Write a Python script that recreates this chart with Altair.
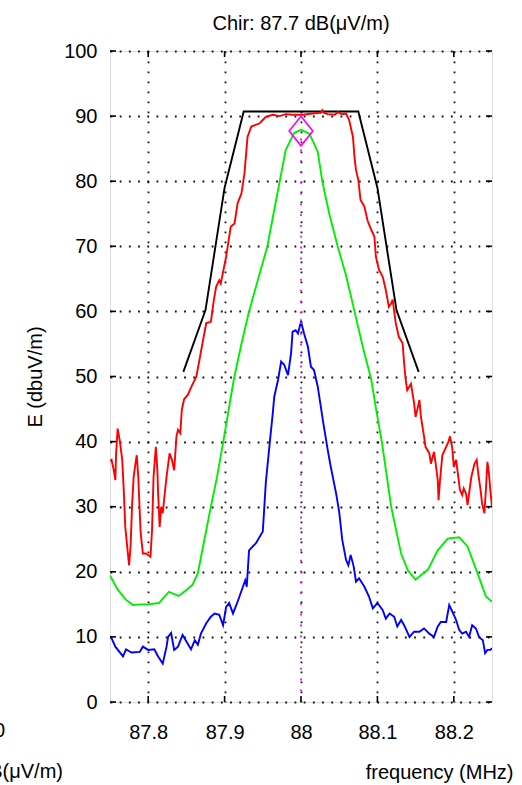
import altair as alt
import pandas as pd

# ---------------- data ----------------
x_ticks = [87.8, 87.9, 88.0, 88.1, 88.2]
y_ticks = [0, 10, 20, 30, 40, 50, 60, 70, 80, 90, 100]

black_f = [87.846, 87.875, 87.9, 87.925, 88.075, 88.1, 88.125, 88.154]
black_v = [50.7, 60.2, 79.0, 90.7, 90.7, 79.0, 60.2, 50.7]

red_f = [87.75, 87.752, 87.755, 87.757, 87.758, 87.760, 87.763, 87.766, 87.768, 87.770,
         87.773, 87.775, 87.777, 87.779, 87.781, 87.783, 87.785, 87.787, 87.790, 87.793,
         87.797, 87.803, 87.805, 87.807, 87.810, 87.812, 87.813, 87.815, 87.817, 87.819,
         87.821, 87.824, 87.828, 87.831, 87.834, 87.837, 87.839, 87.842, 87.844, 87.847,
         87.852, 87.856, 87.863, 87.867, 87.871, 87.876, 87.882, 87.886, 87.889, 87.893,
         87.895, 87.902, 87.908, 87.913, 87.917, 87.922, 87.926, 87.930, 87.935, 87.946,
         87.950, 87.954, 87.963, 87.972, 87.980, 87.989, 88.002, 88.015, 88.026, 88.028,
         88.030, 88.035, 88.044, 88.048, 88.054, 88.059, 88.063, 88.068, 88.070, 88.072,
         88.075, 88.078, 88.083, 88.087, 88.092, 88.096, 88.098, 88.102, 88.107, 88.111,
         88.115, 88.118, 88.120, 88.124, 88.128, 88.133, 88.135, 88.137, 88.139, 88.144,
         88.148, 88.150, 88.153, 88.155, 88.157, 88.161, 88.163, 88.168, 88.170, 88.174,
         88.176, 88.179, 88.180, 88.182, 88.185, 88.190, 88.193, 88.195, 88.198, 88.200,
         88.203, 88.205, 88.208, 88.211, 88.213, 88.216, 88.218, 88.220, 88.223, 88.227,
         88.230, 88.232, 88.235, 88.237, 88.240, 88.242, 88.244, 88.246, 88.248, 88.250]
red_v = [37.0, 37.2, 35.6, 34.1, 38.2, 42.0, 40.0, 37.2, 32.6, 26.9,
         23.3, 21.0, 24.1, 30.5, 34.6, 36.4, 37.9, 34.6, 26.2, 22.8,
         22.8, 22.3, 26.4, 34.6, 39.2, 35.6, 32.0, 26.9, 30.0, 29.0,
         31.3, 34.6, 38.2, 37.2, 35.6, 40.8, 41.8, 41.3, 44.9, 46.5,
         47.2, 48.3, 50.0, 52.5, 55.1, 58.2, 58.4, 61.8, 63.8, 64.8,
         64.3, 68.4, 73.0, 73.5, 76.6, 78.1, 81.2, 86.8, 88.4, 88.9,
         89.4, 89.9, 90.2, 90.0, 90.3, 90.2, 90.2, 90.4, 90.5, 90.9,
         90.5, 90.3, 90.2, 90.6, 90.3, 90.4, 89.4, 86.8, 83.7, 81.7,
         80.2, 77.1, 76.1, 74.0, 72.5, 71.5, 68.4, 66.4, 65.3, 63.3,
         60.7, 61.2, 61.8, 58.2, 56.1, 55.1, 52.0, 49.5, 47.9, 48.9,
         45.9, 43.8, 45.3, 46.4, 43.8, 40.8, 39.2, 38.2, 36.6, 38.4,
         36.9, 34.1, 31.0, 34.1, 37.9, 39.2, 40.0, 40.8, 39.0, 36.1,
         37.2, 35.4, 32.6, 31.8, 32.8, 32.0, 30.3, 32.0, 34.6, 36.6,
         37.2, 35.1, 32.6, 30.5, 29.0, 32.6, 36.9, 35.1, 32.3, 30.0]

green_f = [87.75, 87.752, 87.76, 87.77, 87.78, 87.79, 87.80, 87.814, 87.827, 87.84,
           87.85, 87.858, 87.865, 87.872, 87.882, 87.89, 87.898, 87.912, 87.922, 87.932,
           87.944, 87.956, 87.964, 87.972, 87.98, 87.991, 88.0, 88.011, 88.022, 88.028,
           88.037, 88.048, 88.059, 88.07, 88.081, 88.092, 88.099, 88.106, 88.118, 88.131,
           88.14, 88.15, 88.158, 88.166, 88.179, 88.192, 88.207, 88.218, 88.231, 88.242,
           88.25]
green_v = [19.5, 19.0, 17.3, 15.8, 14.9, 15.0, 15.0, 15.2, 16.9, 16.3,
           17.2, 18.0, 19.8, 24.0, 30.0, 34.5, 39.8, 49.5, 55.0, 60.0,
           65.0, 70.0, 75.0, 79.9, 84.8, 87.4, 87.9, 87.3, 84.5, 79.9,
           75.0, 70.0, 65.5, 60.0, 54.5, 49.5, 44.5, 39.8, 30.0, 22.8,
           20.2, 18.8, 19.6, 20.3, 23.3, 25.1, 25.3, 23.9, 19.8, 16.2,
           15.4]

blue_f = [87.75, 87.752, 87.757, 87.767, 87.771, 87.778, 87.789, 87.793, 87.80, 87.808,
          87.813, 87.819, 87.824, 87.826, 87.83, 87.834, 87.839, 87.845, 87.85, 87.856,
          87.861, 87.865, 87.869, 87.876, 87.882, 87.887, 87.893, 87.898, 87.902, 87.906,
          87.911, 87.917, 87.924, 87.927, 87.929, 87.932, 87.941, 87.95, 87.952, 87.954,
          87.959, 87.963, 87.965, 87.97, 87.974, 87.978, 87.983, 87.987, 87.989, 87.993,
          87.996, 88.0, 88.004, 88.009, 88.013, 88.017, 88.022, 88.029, 88.035, 88.039,
          88.046, 88.05, 88.054, 88.059, 88.062, 88.065, 88.069, 88.072, 88.076, 88.083,
          88.089, 88.094, 88.10, 88.107, 88.111, 88.116, 88.122, 88.126, 88.131, 88.135,
          88.142, 88.148, 88.155, 88.161, 88.168, 88.174, 88.179, 88.183, 88.19, 88.194,
          88.198, 88.203, 88.207, 88.211, 88.216, 88.22, 88.224, 88.229, 88.233, 88.238,
          88.241, 88.244, 88.248, 88.25]
blue_v = [10.0, 9.8, 8.5, 7.0, 8.1, 7.6, 7.7, 8.5, 8.0, 8.1,
          7.0, 5.9, 8.5, 10.0, 10.6, 8.0, 8.5, 10.3, 9.3, 8.1,
          9.5, 8.8, 10.5, 12.1, 13.1, 13.6, 13.4, 11.8, 14.6, 15.2,
          13.6, 15.4, 17.7, 18.7, 17.7, 23.3, 24.4, 26.2, 30.0, 33.8,
          39.7, 44.3, 46.9, 49.5, 52.3, 51.8, 50.2, 53.6, 56.9, 57.1,
          56.6, 58.4, 56.6, 54.6, 51.5, 51.0, 48.4, 43.0, 38.7, 36.1,
          32.0, 29.2, 24.9, 21.8, 21.0, 22.6, 20.8, 18.5, 19.0, 17.7,
          16.2, 14.4, 15.2, 14.1, 12.8, 13.6, 13.1, 11.6, 12.6, 11.8,
          10.0, 10.8, 10.8, 11.3, 10.5, 10.0, 11.6, 12.3, 12.3, 14.9,
          13.9, 12.6, 11.1, 10.5, 10.8, 10.0, 11.8, 11.3, 10.0, 9.5,
          7.5, 8.0, 8.0, 8.3]

marker_f = [88.0]
marker_v = [87.7]

series_names = ["mask", "max", "avg", "min"]
series_colors = ["#000000", "#ff0000", "#00ee00", "#0000ff"]

title_text = "Chir: 87.7 dB(\u03bcV/m)"
cut_texts = ["0", "dB(\u03bcV/m)"]

# ---------------- build tables ----------------
rows = []
for name, fs, vs in [("mask", black_f, black_v), ("max", red_f, red_v),
                     ("avg", green_f, green_v), ("min", blue_f, blue_v)]:
    for i, (f, v) in enumerate(zip(fs, vs)):
        rows.append({"series": name, "f": f, "v": v, "i": i})
lines_df = pd.DataFrame(rows)
marker_df = pd.DataFrame({"f": marker_f, "v": marker_v, "v0": [0.0]})
xt_df = pd.DataFrame({"f": x_ticks})
yt_df = pd.DataFrame({"v": y_ticks})

FONT = "Liberation Sans"
FS = 20
W, H = 382, 651

xscale = alt.Scale(domain=[87.75, 88.25], nice=False, zero=False)
yscale = alt.Scale(domain=[0, 100], nice=False, zero=False)

x_axis = alt.Axis(values=x_ticks, format=".4~g", tickSize=0, labelPadding=20,
                  grid=True, gridColor="#111111", gridDash=[1.8, 8.2], gridWidth=1.8,
                  domain=False, labelFontSize=FS, labelFont=FONT, labelColor="black",
                  title="frequency (MHz)", titleFont=FONT, titleFontSize=FS,
                  titleFontWeight="normal", titleColor="black",
                  titleX=403, titleY=70, titleAlign="right", titleBaseline="middle",
                  labelFlush=False)
y_axis = alt.Axis(values=y_ticks, tickSize=0, labelPadding=13,
                  grid=True, gridColor="#111111", gridDash=[1.8, 7.4], gridWidth=1.8,
                  domain=False, labelFontSize=FS, labelFont=FONT, labelColor="black",
                  title="E  (dbuV/m)", titleFont=FONT, titleFontSize=FS,
                  titleFontWeight="normal", titleColor="black",
                  titleX=-75, titleY=H / 2, titleAlign="center", titleBaseline="middle",
                  titleAngle=270, labelFlush=False)

base_lines = alt.Chart(lines_df).mark_line(strokeWidth=1.9, clip=True).encode(
    x=alt.X("f:Q", scale=xscale, axis=x_axis),
    y=alt.Y("v:Q", scale=yscale, axis=y_axis),
    color=alt.Color("series:N", scale=alt.Scale(domain=series_names, range=series_colors),
                    legend=None),
    detail="series:N",
    order="i:Q",
)

vline = alt.Chart(marker_df).mark_rule(color="#ff00ff", strokeWidth=1.8,
                                       strokeDash=[1.8, 9]).encode(
    x=alt.X("f:Q", scale=xscale),
    y=alt.Y("v0:Q", scale=yscale),
    y2="v:Q",
)

diamond = alt.Chart(marker_df).mark_point(
    shape="M0,-1.25L1,0L0,1.25L-1,0Z", size=560, color="#ff00ff",
    strokeWidth=1.7, filled=False, opacity=1
).encode(x=alt.X("f:Q", scale=xscale), y=alt.Y("v:Q", scale=yscale))

tick_len = 6
xt_bottom = alt.Chart(xt_df).mark_rule(color="black", strokeWidth=1.6).encode(
    x=alt.X("f:Q", scale=xscale), y=alt.value(H), y2=alt.value(H - tick_len))
xt_top = alt.Chart(xt_df).mark_rule(color="black", strokeWidth=1.6).encode(
    x=alt.X("f:Q", scale=xscale), y=alt.value(0), y2=alt.value(tick_len))
yt_left = alt.Chart(yt_df).mark_rule(color="black", strokeWidth=1.6).encode(
    y=alt.Y("v:Q", scale=yscale), x=alt.value(0), x2=alt.value(tick_len))
yt_right = alt.Chart(yt_df).mark_rule(color="black", strokeWidth=1.6).encode(
    y=alt.Y("v:Q", scale=yscale), x=alt.value(W), x2=alt.value(W - tick_len))

# title drawn as a text above the plot
title_df = pd.DataFrame({"t": [title_text]})
title_mark = alt.Chart(title_df).mark_text(font=FONT, fontSize=FS, align="center",
                                           baseline="alphabetic", color="black").encode(
    text="t:N", x=alt.value(W / 2), y=alt.value(-21))

# texts cut by the left edge of the picture
cut_df = pd.DataFrame({"t": cut_texts, "px": [-105.0, -47.0], "py": [H + 29.0, H + 70.0]})
cut_text = alt.Chart(cut_df).mark_text(font=FONT, fontSize=FS, align="right",
                                       baseline="middle", color="black").encode(
    text="t:N", x=alt.X("px:Q", scale=None), y=alt.Y("py:Q", scale=None))

chart = alt.layer(base_lines, vline, diamond, xt_bottom, xt_top, yt_left, yt_right,
                  title_mark, cut_text).properties(
    width=W, height=H,
    autosize=alt.AutoSizeParams(type="none"),
    padding={"left": 110, "top": 51, "right": 30, "bottom": 83},
).configure_view(stroke="black", strokeWidth=1.8).configure(background="white")

chart.save("out.html", embed_options={"renderer": "svg", "actions": False})
